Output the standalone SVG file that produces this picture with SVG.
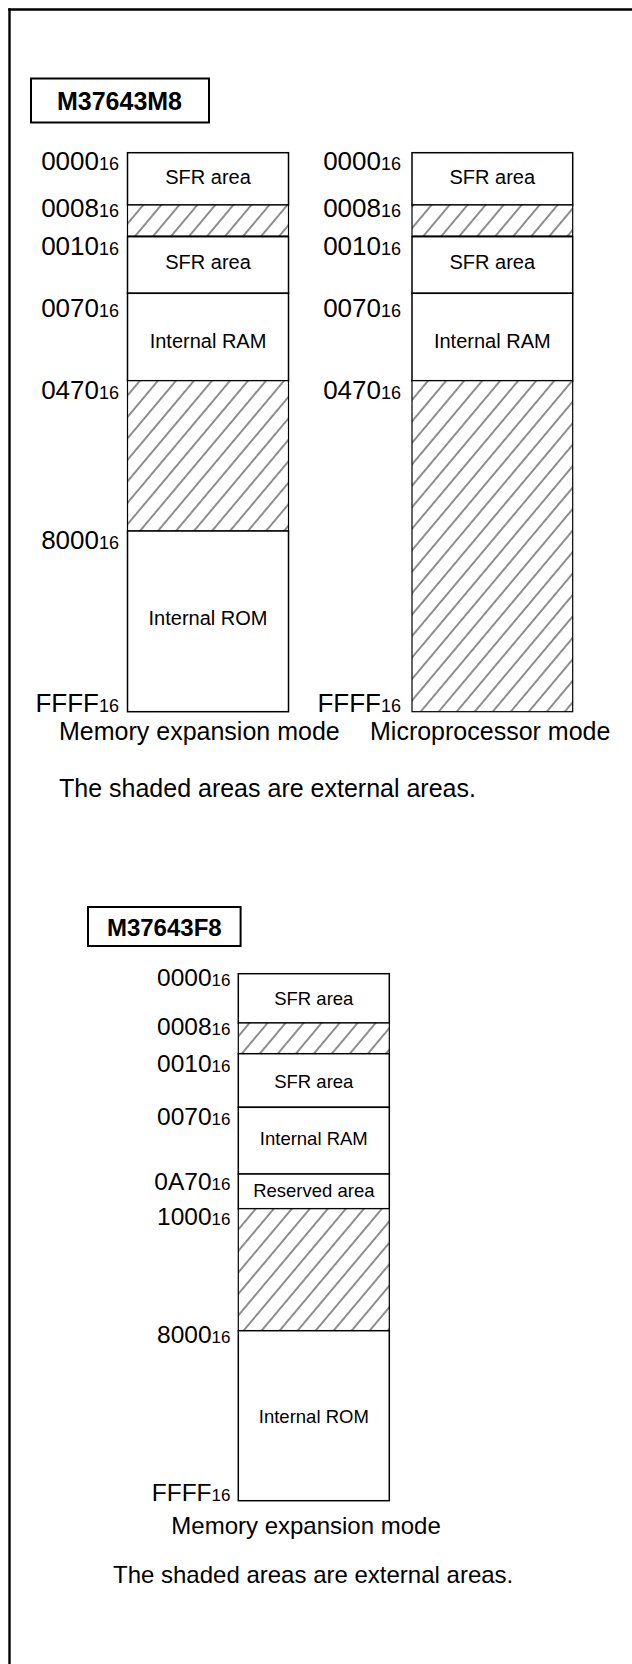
<svg xmlns="http://www.w3.org/2000/svg" width="632" height="1664" viewBox="0 0 632 1664">
<style>
  text { font-family: "Liberation Sans", Arial, sans-serif; fill: #000; }
  .frame { stroke: #000; stroke-width: 2.4; fill: none; }
  .title { fill: #fff; stroke: #000; stroke-width: 2; }
  .ttl { font-weight: bold; text-anchor: middle; }
  .box { fill: #fff; stroke: #000; stroke-width: 1.5; }
  .hat { fill: url(#hatch); stroke: #000; stroke-width: 1.2; }
  .addrA { font-size: 26px; text-anchor: end; }
  .addrB { font-size: 24.5px; text-anchor: end; }
  .inA { font-size: 20px; text-anchor: middle; }
  .inB { font-size: 18.5px; text-anchor: middle; }
  .capA { font-size: 25px; }
  .capB { font-size: 24px; }
</style>
<defs>
  <pattern id="hatch" patternUnits="userSpaceOnUse" width="10" height="13.8" patternTransform="rotate(-50)">
    <rect width="10" height="13.8" fill="#fff"/>
    <line x1="-1" y1="6.9" x2="11" y2="6.9" stroke="#333" stroke-width="1.1"/>
  </pattern>
</defs>

<g id="frame">
  <line class="frame" x1="8.3" y1="9.5" x2="632" y2="9.5"/>
  <line class="frame" x1="9.5" y1="8.3" x2="9.5" y2="1664"/>
</g>

<!-- ===== M37643M8 ===== -->
<g id="title-m8">
  <rect class="title" x="31" y="78.5" width="178" height="44"/>
  <text class="ttl" x="119.5" y="110" font-size="25">M37643M8</text>
</g>

<g id="m8-expansion">
  <g id="m8e-sfr1">
    <rect class="box" x="127.5" y="152.7" width="161" height="52.3"/>
    <text class="inA" x="208" y="184.3">SFR area</text>
  </g>
  <g id="m8e-ext1">
    <rect class="hat" x="127.5" y="205" width="161" height="31"/>
  </g>
  <g id="m8e-sfr2">
    <rect class="box" x="127.5" y="236.7" width="161" height="56.6"/>
    <text class="inA" x="208" y="269.3">SFR area</text>
  </g>
  <g id="m8e-ram">
    <rect class="box" x="127.5" y="293.3" width="161" height="87.4"/>
    <text class="inA" x="208" y="347.7">Internal RAM</text>
  </g>
  <g id="m8e-ext2">
    <rect class="hat" x="127.5" y="380.7" width="161" height="150.3"/>
  </g>
  <g id="m8e-rom">
    <rect class="box" x="127.5" y="531" width="161" height="180.7"/>
    <text class="inA" x="208" y="625">Internal ROM</text>
  </g>
  <g id="m8e-addr">
    <text class="addrA" x="119" y="170">0000<tspan font-size="18">16</tspan></text>
    <text class="addrA" x="119" y="217.3">0008<tspan font-size="18">16</tspan></text>
    <text class="addrA" x="119" y="255">0010<tspan font-size="18">16</tspan></text>
    <text class="addrA" x="119" y="317.3">0070<tspan font-size="18">16</tspan></text>
    <text class="addrA" x="119" y="399.3">0470<tspan font-size="18">16</tspan></text>
    <text class="addrA" x="119" y="549.3">8000<tspan font-size="18">16</tspan></text>
    <text class="addrA" x="119" y="712.3">FFFF<tspan font-size="18">16</tspan></text>
  </g>
  <text class="capA" x="59" y="740">Memory expansion mode</text>
</g>

<g id="m8-microprocessor">
  <g id="m8m-sfr1">
    <rect class="box" x="412" y="152.7" width="160.7" height="52.3"/>
    <text class="inA" x="492.3" y="184.3">SFR area</text>
  </g>
  <g id="m8m-ext1">
    <rect class="hat" x="412" y="205" width="160.7" height="31"/>
  </g>
  <g id="m8m-sfr2">
    <rect class="box" x="412" y="236.7" width="160.7" height="56.6"/>
    <text class="inA" x="492.3" y="269.3">SFR area</text>
  </g>
  <g id="m8m-ram">
    <rect class="box" x="412" y="293.3" width="160.7" height="87.4"/>
    <text class="inA" x="492.3" y="347.7">Internal RAM</text>
  </g>
  <g id="m8m-ext2">
    <rect class="hat" x="412" y="380.7" width="160.7" height="331"/>
  </g>
  <g id="m8m-addr">
    <text class="addrA" x="401" y="170">0000<tspan font-size="18">16</tspan></text>
    <text class="addrA" x="401" y="217.3">0008<tspan font-size="18">16</tspan></text>
    <text class="addrA" x="401" y="255">0010<tspan font-size="18">16</tspan></text>
    <text class="addrA" x="401" y="317.3">0070<tspan font-size="18">16</tspan></text>
    <text class="addrA" x="401" y="399.3">0470<tspan font-size="18">16</tspan></text>
    <text class="addrA" x="401" y="712.3">FFFF<tspan font-size="18">16</tspan></text>
  </g>
  <text class="capA" x="370" y="740">Microprocessor mode</text>
</g>

<g id="note-m8">
  <text class="capA" x="59" y="797">The shaded areas are external areas.</text>
</g>

<!-- ===== M37643F8 ===== -->
<g id="title-f8">
  <rect class="title" x="88" y="907" width="152.6" height="39"/>
  <text class="ttl" x="164.3" y="935.5" font-size="24">M37643F8</text>
</g>

<g id="f8-expansion">
  <g id="f8-sfr1">
    <rect class="box" x="238.3" y="973.7" width="151" height="49.3"/>
    <text class="inB" x="313.8" y="1005">SFR area</text>
  </g>
  <g id="f8-ext1">
    <rect class="hat" x="238.3" y="1023" width="151" height="30.7"/>
  </g>
  <g id="f8-sfr2">
    <rect class="box" x="238.3" y="1053.7" width="151" height="53.6"/>
    <text class="inB" x="313.8" y="1088.3">SFR area</text>
  </g>
  <g id="f8-ram">
    <rect class="box" x="238.3" y="1107.3" width="151" height="66.7"/>
    <text class="inB" x="313.8" y="1145">Internal RAM</text>
  </g>
  <g id="f8-reserved">
    <rect class="box" x="238.3" y="1174" width="151" height="34.7"/>
    <text class="inB" x="313.8" y="1197.3">Reserved area</text>
  </g>
  <g id="f8-ext2">
    <rect class="hat" x="238.3" y="1208.7" width="151" height="122"/>
  </g>
  <g id="f8-rom">
    <rect class="box" x="238.3" y="1330.7" width="151" height="170"/>
    <text class="inB" x="313.8" y="1423.3">Internal ROM</text>
  </g>
  <g id="f8-addr">
    <text class="addrB" x="230.5" y="986">0000<tspan font-size="17">16</tspan></text>
    <text class="addrB" x="230.5" y="1035">0008<tspan font-size="17">16</tspan></text>
    <text class="addrB" x="230.5" y="1072">0010<tspan font-size="17">16</tspan></text>
    <text class="addrB" x="230.5" y="1124.5">0070<tspan font-size="17">16</tspan></text>
    <text class="addrB" x="230.5" y="1189.5">0A70<tspan font-size="17">16</tspan></text>
    <text class="addrB" x="230.5" y="1225.3">1000<tspan font-size="17">16</tspan></text>
    <text class="addrB" x="230.5" y="1343.3">8000<tspan font-size="17">16</tspan></text>
    <text class="addrB" x="230.5" y="1501">FFFF<tspan font-size="17">16</tspan></text>
  </g>
  <text class="capB" x="171.3" y="1534">Memory expansion mode</text>
</g>

<g id="note-f8">
  <text class="capB" x="113" y="1583.3">The shaded areas are external areas.</text>
</g>
</svg>
